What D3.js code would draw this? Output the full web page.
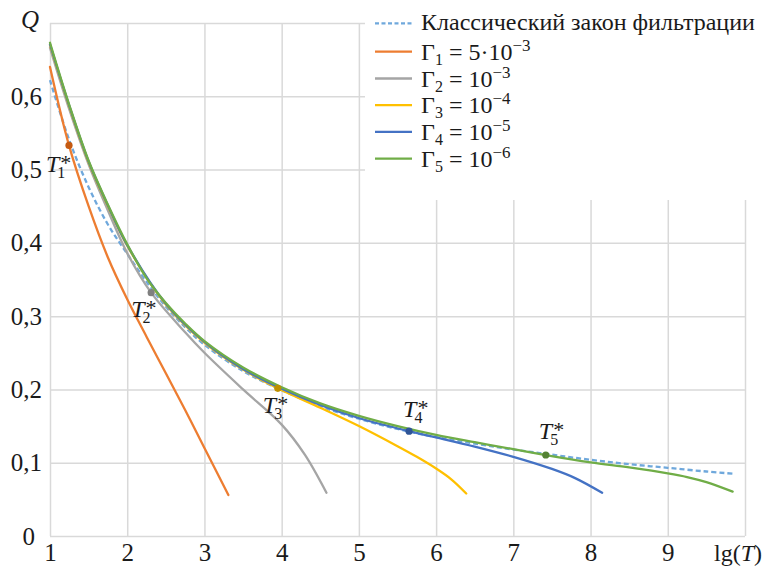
<!DOCTYPE html>
<html>
<head>
<meta charset="utf-8">
<script src="https://cdn.jsdelivr.net/npm/d3@7"></script>
<style>
html, body { margin: 0; padding: 0; background: #fff; }
svg { display: block; font-family: "Liberation Serif", "Times New Roman", serif; }
</style>
</head>
<body>
<svg id="main" width="764" height="567"></svg>
<script>
// values: [lg(T), Q]
var classic = [[1,0.622],[1.25,0.54],[1.5,0.476],[1.75,0.425],[2,0.385],[2.25,0.347],[2.5,0.313],[2.75,0.285],[3,0.261],[3.5,0.225],[4,0.199],[4.5,0.177],[5,0.16],[5.5,0.146],[6,0.135],[6.5,0.126],[7,0.118],[7.5,0.111],[8,0.104],[8.5,0.098],[9,0.093],[9.5,0.088],[9.85,0.085]];
var gamma1 = [[1,0.64],[1.246,0.533],[1.5,0.45],[1.75,0.38],[2,0.323],[2.25,0.272],[2.5,0.222],[2.75,0.172],[3,0.12],[3.31,0.056]];
var gamma2 = [[1,0.666],[1.25,0.582],[1.5,0.507],[1.75,0.444],[2,0.386],[2.31,0.332],[2.75,0.278],[3,0.25],[3.5,0.2],[4,0.152],[4.3,0.111],[4.58,0.059]];
var gamma3 = [[1,0.67],[1.25,0.586],[1.5,0.51],[1.75,0.45],[2,0.396],[2.5,0.316],[3,0.264],[3.5,0.227],[3.95,0.2015],[4.5,0.175],[5,0.15],[5.5,0.1225],[5.75,0.108],[6,0.092],[6.2,0.077],[6.39,0.058]];
var gamma4 = [[1,0.671],[1.25,0.587],[1.5,0.511],[1.75,0.451],[2,0.397],[2.5,0.317],[3,0.265],[3.5,0.228],[4,0.201],[4.5,0.179],[5,0.161],[5.65,0.143],[6,0.1345],[6.5,0.122],[7,0.108],[7.5,0.0915],[7.8,0.079],[8.15,0.059]];
var gamma5 = [[1,0.673],[1.25,0.588],[1.5,0.512],[1.75,0.452],[2,0.398],[2.25,0.352],[2.5,0.318],[2.75,0.29],[3,0.266],[3.5,0.23],[4,0.203],[4.5,0.181],[5,0.164],[5.5,0.15],[6,0.138],[6.5,0.128],[7,0.1185],[7.42,0.1105],[8,0.1005],[8.5,0.0935],[9,0.0855],[9.25,0.0805],[9.5,0.0735],[9.84,0.0605]];
var critical = [[1.246,0.533],[2.31,0.332],[3.95,0.2015],[5.65,0.143],[7.42,0.1105]];

var xTicks = [1,2,3,4,5,6,7,8,9,10];
var yTicks = [0,0.1,0.2,0.3,0.4,0.5,0.6,0.7];
var gammaSub = ['1','2','3','4','5'];
var gammaMant = ['5·10','10','10','10','10'];
var gammaExp = ['−3','−3','−4','−5','−6'];
var classicName = 'Классический закон фильтрации';

var colors = ['#ed7d31','#a5a5a5','#ffc000','#4472c4','#70ad47'];
var dotColors = ['#c55a11','#7f7f7f','#bf9000','#2f5597','#548235'];
var classicColor = '#6fa8dc';
var ink = '#1a1a1a';
var serif = '"Liberation Serif", "Times New Roman", serif';

var svg = d3.select('#main');
var x = d3.scaleLinear().domain([1,10]).range([50,745]);
var y = d3.scaleLinear().domain([0,0.7]).range([536,23]);
var gridColor = '#d9d9d9';

// grid + tick labels
var xAxis = svg.append('g')
	.attr('transform', `translate(0,${y(0)})`)
	.call(d3.axisBottom(x).tickValues(xTicks).tickSize(-(y(0)-y(0.7))).tickPadding(7)
		.tickFormat(d => d === 10 ? '' : d));
var yAxis = svg.append('g')
	.attr('transform', `translate(${x(1)},0)`)
	.call(d3.axisLeft(y).tickValues(yTicks).tickSize(-(x(10)-x(1))).tickPadding(8)
		.tickFormat(d => d === 0.7 ? '' : (d === 0 ? '0' : d3.format('.1f')(d).replace('.', ','))));
for (let g of [xAxis, yAxis]) {
	g.attr('font-family', null).attr('font-size', null);
	g.select('.domain').remove();
	g.selectAll('line').attr('stroke', gridColor).attr('stroke-width', 1.5);
	g.selectAll('text').attr('fill', ink).style('font-size', '25px').style('font-family', serif);
}
// the zero label sits a little further left in the original
yAxis.selectAll('.tick').filter(d => d === 0).select('text').attr('x', -15);

// axis titles
var xt = svg.append('text').attr('x', x(10) - 7).attr('y', 561)
	.attr('text-anchor', 'middle').style('font-size', '24px').attr('fill', ink);
xt.append('tspan').text('lg(');
xt.append('tspan').style('font-style', 'italic').text('T');
xt.append('tspan').text(')');
svg.append('text').attr('x', 21).attr('y', 28).style('font-size', '25px')
	.style('font-style', 'italic').attr('fill', ink).text('Q');

// legend box over the grid
svg.append('rect').attr('x', 365).attr('y', 0).attr('width', 399).attr('height', 200).attr('fill', '#fff');

// curves
var line = d3.line().x(d => x(d[0])).y(d => y(d[1])).curve(d3.curveCatmullRom.alpha(0.5));
svg.append('path').attr('d', line(classic)).attr('fill', 'none')
	.attr('stroke', classicColor).attr('stroke-width', 2.3).attr('stroke-dasharray', '5,3');
[gamma1, gamma2, gamma3, gamma4, gamma5].forEach((s, i) => {
	svg.append('path').attr('d', line(s)).attr('fill', 'none')
		.attr('stroke', colors[i]).attr('stroke-width', 2.3).attr('stroke-linecap', 'round');
});

// critical points
var labelOffsets = [[-23,27],[-20,24],[-15,25],[-6,-14],[-7,-16]];
critical.forEach((p, i) => {
	var cx = x(p[0]), cy = y(p[1]);
	svg.append('circle').attr('cx', cx).attr('cy', cy).attr('r', 3.6).attr('fill', dotColors[i]);
	var t = svg.append('text').attr('fill', ink)
		.attr('x', cx + labelOffsets[i][0]).attr('y', cy + labelOffsets[i][1]).style('font-size', '24px');
	t.append('tspan').style('font-style', 'italic').text('T');
	t.append('tspan').attr('dx', -2).attr('dy', 6).style('font-size', '16px').text(gammaSub[i]);
	t.append('tspan').attr('dx', -5).attr('dy', -8).style('font-size', '22px').text('*');
});

// legend
var lg = svg.append('g').attr('fill', ink);
var rowLine = [23.3, 51.7, 78.5, 105.2, 131.9, 158.6];
lg.append('line').attr('x1', 375).attr('x2', 412).attr('y1', rowLine[0]).attr('y2', rowLine[0])
	.attr('stroke', classicColor).attr('stroke-width', 2.3).attr('stroke-dasharray', '4,2.5');
lg.append('text').attr('x', 421).attr('y', rowLine[0] + 7).style('font-size', '24px').text(classicName);
gammaSub.forEach((s, i) => {
	var ly = rowLine[i + 1];
	lg.append('line').attr('x1', 375).attr('x2', 412).attr('y1', ly).attr('y2', ly)
		.attr('stroke', colors[i]).attr('stroke-width', 2.3);
	var t = lg.append('text').attr('x', 421).attr('y', ly + 8).style('font-size', '24px');
	t.append('tspan').text('Γ');
	t.append('tspan').attr('dy', 5).style('font-size', '16px').text(s);
	t.append('tspan').attr('dy', -5).text(' = ' + gammaMant[i]);
	t.append('tspan').attr('dy', -9).style('font-size', '17px').text(gammaExp[i]);
});
</script>
</body>
</html>
